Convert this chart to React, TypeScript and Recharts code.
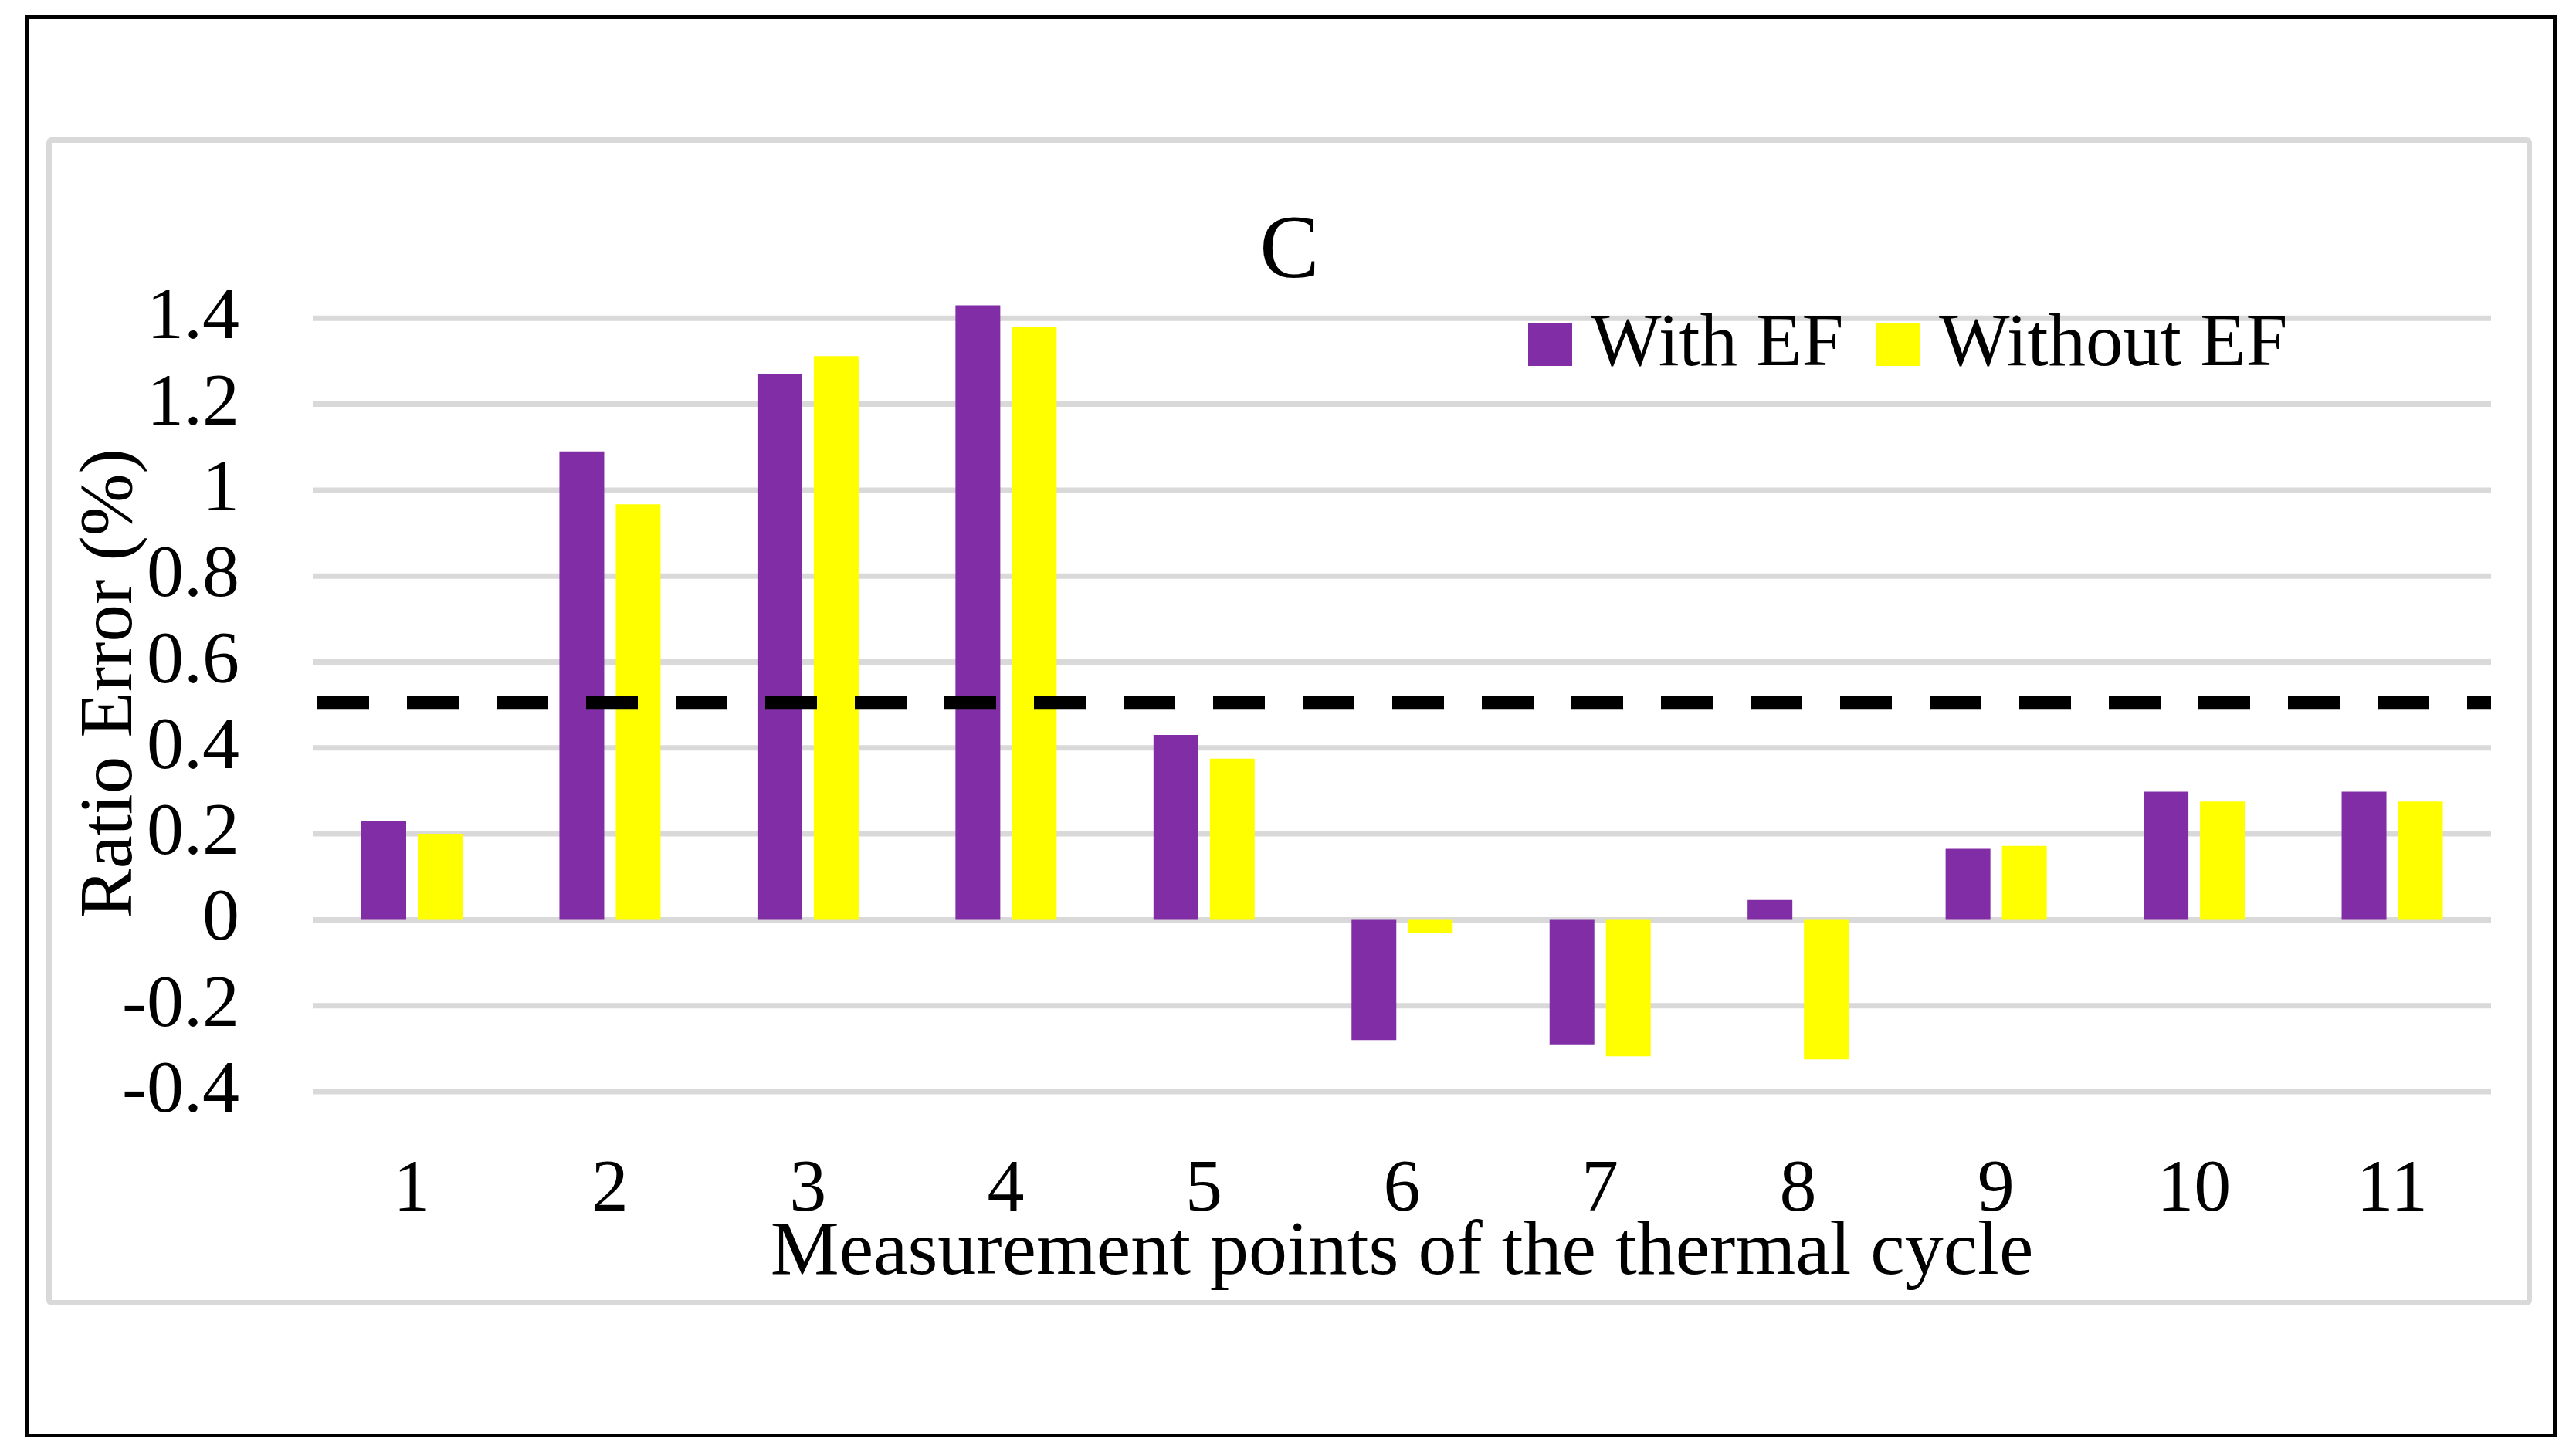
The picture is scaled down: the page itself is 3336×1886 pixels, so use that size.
import React from 'react';
import { BarChart, Bar, XAxis, YAxis, CartesianGrid, ReferenceLine, Legend } from 'recharts';

const points = ['1', '2', '3', '4', '5', '6', '7', '8', '9', '10', '11'];
const withEF = [0.23, 1.09, 1.27, 1.43, 0.43, -0.28, -0.29, 0.046, 0.165, 0.298, 0.298];
const withoutEF = [0.2, 0.967, 1.312, 1.38, 0.375, -0.03, -0.318, -0.325, 0.172, 0.275, 0.275];
const yTicks = [-0.4, -0.2, 0, 0.2, 0.4, 0.6, 0.8, 1, 1.2, 1.4];
const limitValue = 0.505;

const data = points.map((p, i) => ({ point: p, withEF: withEF[i], withoutEF: withoutEF[i] }));

const FONT = '"Liberation Serif", "Times New Roman", serif';
const PURPLE = '#812DA6';
const YELLOW = '#FFFF00';

const renderYTick = (props: any) => (
  <text x={props.x} y={props.y + 26} textAnchor="end" fontSize={96} fontFamily={FONT} fill="#000">
    {String(props.payload.value)}
  </text>
);

const renderXTick = (props: any) => (
  <text x={props.x} y={props.y + 148} textAnchor="middle" fontSize={96} fontFamily={FONT} fill="#000">
    {props.payload.value}
  </text>
);

const renderYLabel = (props: any) => {
  const vb = props.viewBox || { x: 60, y: 301, width: 345, height: 1113 };
  const x = vb.x + 110;
  const y = vb.y + vb.height / 2 + 28;
  return (
    <text
      x={x}
      y={y}
      transform={`rotate(-90 ${x} ${y})`}
      textAnchor="middle"
      fontSize={97}
      fontFamily={FONT}
      fill="#000"
    >
      Ratio Error (%)
    </text>
  );
};

const renderLegend = (props: any) => {
  const payload = props.payload || [];
  return (
    <svg width={1100} height={130} style={{ display: 'block' }}>
      {payload.map((entry: any, i: number) => (
        <g key={i} transform={`translate(${i * 451},0)`}>
          <rect x={0} y={38} width={57} height={56} fill={entry.color} />
          <text x={81} y={93} fontSize={97} fontFamily={FONT} fill="#000">
            {entry.value}
          </text>
        </g>
      ))}
    </svg>
  );
};

export default function App() {
  return (
    <div style={{ position: 'absolute', left: 0, top: 0, width: 3336, height: 1886, background: '#fff' }}>
      <svg width={3336} height={1886} style={{ position: 'absolute', left: 0, top: 0 }}>
        <rect x={34.5} y={22.5} width={3274} height={1837} fill="none" stroke="#000" strokeWidth={5} />
        <rect x={63.5} y={181.5} width={3212} height={1506} fill="none" stroke="#d9d9d9" strokeWidth={7} rx={3} />
        <text x={1670} y={359} textAnchor="middle" fontSize={116} fontFamily={FONT} fill="#000">
          C
        </text>
      </svg>
      <div style={{ position: 'absolute', left: 0, top: 0 }}>
        <BarChart
          width={3336}
          height={1886}
          data={data}
          margin={{ top: 301, right: 110, bottom: 236, left: 60 }}
          barSize={58}
          barGap={15}
        >
          <CartesianGrid vertical={false} stroke="#d9d9d9" strokeWidth={7} syncWithTicks={true} />
          <XAxis
            dataKey="point"
            type="category"
            height={236}
            axisLine={false}
            tickLine={false}
            tickMargin={0}
            tick={renderXTick}
            interval={0}
            label={{
              value: 'Measurement points of the thermal cycle',
              position: 'insideBottom',
              offset: 0,
              fontSize: 100,
              fontFamily: FONT,
              fill: '#000',
            }}
          />
          <YAxis
            type="number"
            domain={[-0.4, 1.6]}
            ticks={yTicks}
            width={345}
            axisLine={false}
            tickLine={false}
            tickMargin={89}
            tick={renderYTick}
            interval={0}
            label={renderYLabel}
          />
          <Legend
            layout="horizontal"
            verticalAlign="middle"
            align="center"
            content={renderLegend}
            wrapperStyle={{ left: 1979, top: 380, width: 1100, height: 130 }}
          />
          <Bar dataKey="withEF" name="With EF" fill={PURPLE} isAnimationActive={false} />
          <Bar dataKey="withoutEF" name="Without EF" fill={YELLOW} isAnimationActive={false} />
          <ReferenceLine
            y={limitValue}
            stroke="#000"
            strokeWidth={18}
            strokeDasharray="67 49"
            strokeDashoffset={-6}
          />
        </BarChart>
      </div>
    </div>
  );
}
